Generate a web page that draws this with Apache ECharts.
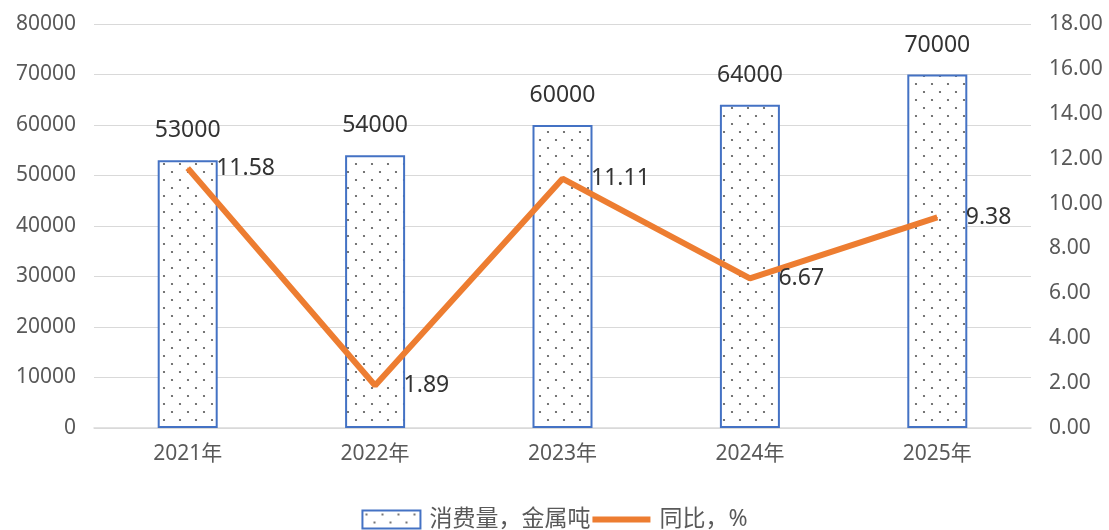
<!DOCTYPE html>
<html><head><meta charset="utf-8">
<script src="https://cdn.jsdelivr.net/npm/echarts@6/dist/echarts.min.js"></script>
<style>html,body{margin:0;padding:0;background:#fff;}#c{width:1109px;height:530px;}</style>
</head><body><div id="c"></div>
<script>
const categories = ['2021年','2022年','2023年','2024年','2025年'];
const consumption = [53000, 54000, 60000, 64000, 70000];
const yoy = [11.58, 1.89, 11.11, 6.67, 9.38];
const leftTicks = {min:0, max:80000, interval:10000};
const rightTicks = {min:0, max:18, interval:2};

const pc = document.createElement('canvas');
pc.width = 16; pc.height = 16;
const g = pc.getContext('2d');
g.fillStyle = '#ffffff'; g.fillRect(0,0,16,16);
g.fillStyle = '#555555';
g.beginPath(); g.arc(4,4,1.1,0,Math.PI*2); g.fill();
g.beginPath(); g.arc(12,12,1.1,0,Math.PI*2); g.fill();

const font = "'Noto Sans','Noto Sans CJK SC',sans-serif";
const chart = echarts.init(document.getElementById('c'));
chart.setOption({
  animation:false,
  textStyle:{fontFamily:font},
  grid:{left:94, right:78, top:24, bottom:102},
  legend:{
    bottom:-6, left:'center', itemGap:2, itemWidth:58, itemHeight:18,
    textStyle:{fontSize:23, color:'#595959', fontFamily:font, padding:[0,4,0,4]},
    data:[{name:'消费量，金属吨', icon:'rect'},{name:'同比，%', icon:'path://M0,0H10V1H0Z', itemStyle:{color:'#ED7D31'}}]
  },
  xAxis:{
    type:'category', data:categories,
    axisLine:{lineStyle:{color:'#d9d9d9', width:1.5}},
    axisTick:{show:false},
    axisLabel:{fontSize:21, color:'#595959', margin:16}
  },
  yAxis:[
    {type:'value', min:leftTicks.min, max:leftTicks.max, interval:leftTicks.interval,
     axisLine:{show:false}, axisTick:{show:false},
     axisLabel:{fontSize:21, color:'#595959', margin:18, formatter:v=>String(v)},
     splitLine:{lineStyle:{color:'#d9d9d9', width:1.2}}},
    {type:'value', min:rightTicks.min, max:rightTicks.max, interval:rightTicks.interval,
     axisLine:{show:false}, axisTick:{show:false},
     axisLabel:{fontSize:21, color:'#595959', margin:18, formatter:v=>v.toFixed(2)},
     splitLine:{show:false}}
  ],
  series:[
    {name:'消费量，金属吨', type:'bar', data:consumption, barWidth:60, yAxisIndex:0,
     itemStyle:{color:{image:pc, repeat:'repeat'}, borderColor:'#4472C4', borderWidth:2},
     label:{show:true, position:'top', distance:18, fontSize:23, color:'#333333', fontFamily:font}},
    {name:'同比，%', type:'line', data:yoy, yAxisIndex:1, symbol:'circle', symbolSize:1, showSymbol:true,
     lineStyle:{color:'#ED7D31', width:6}, itemStyle:{color:'#ED7D31'},
     label:{show:true, position:'right', distance:28, fontSize:23, color:'#333333', fontFamily:font, formatter:p=>p.value.toFixed(2)}}
  ]
});
</script></body></html>
